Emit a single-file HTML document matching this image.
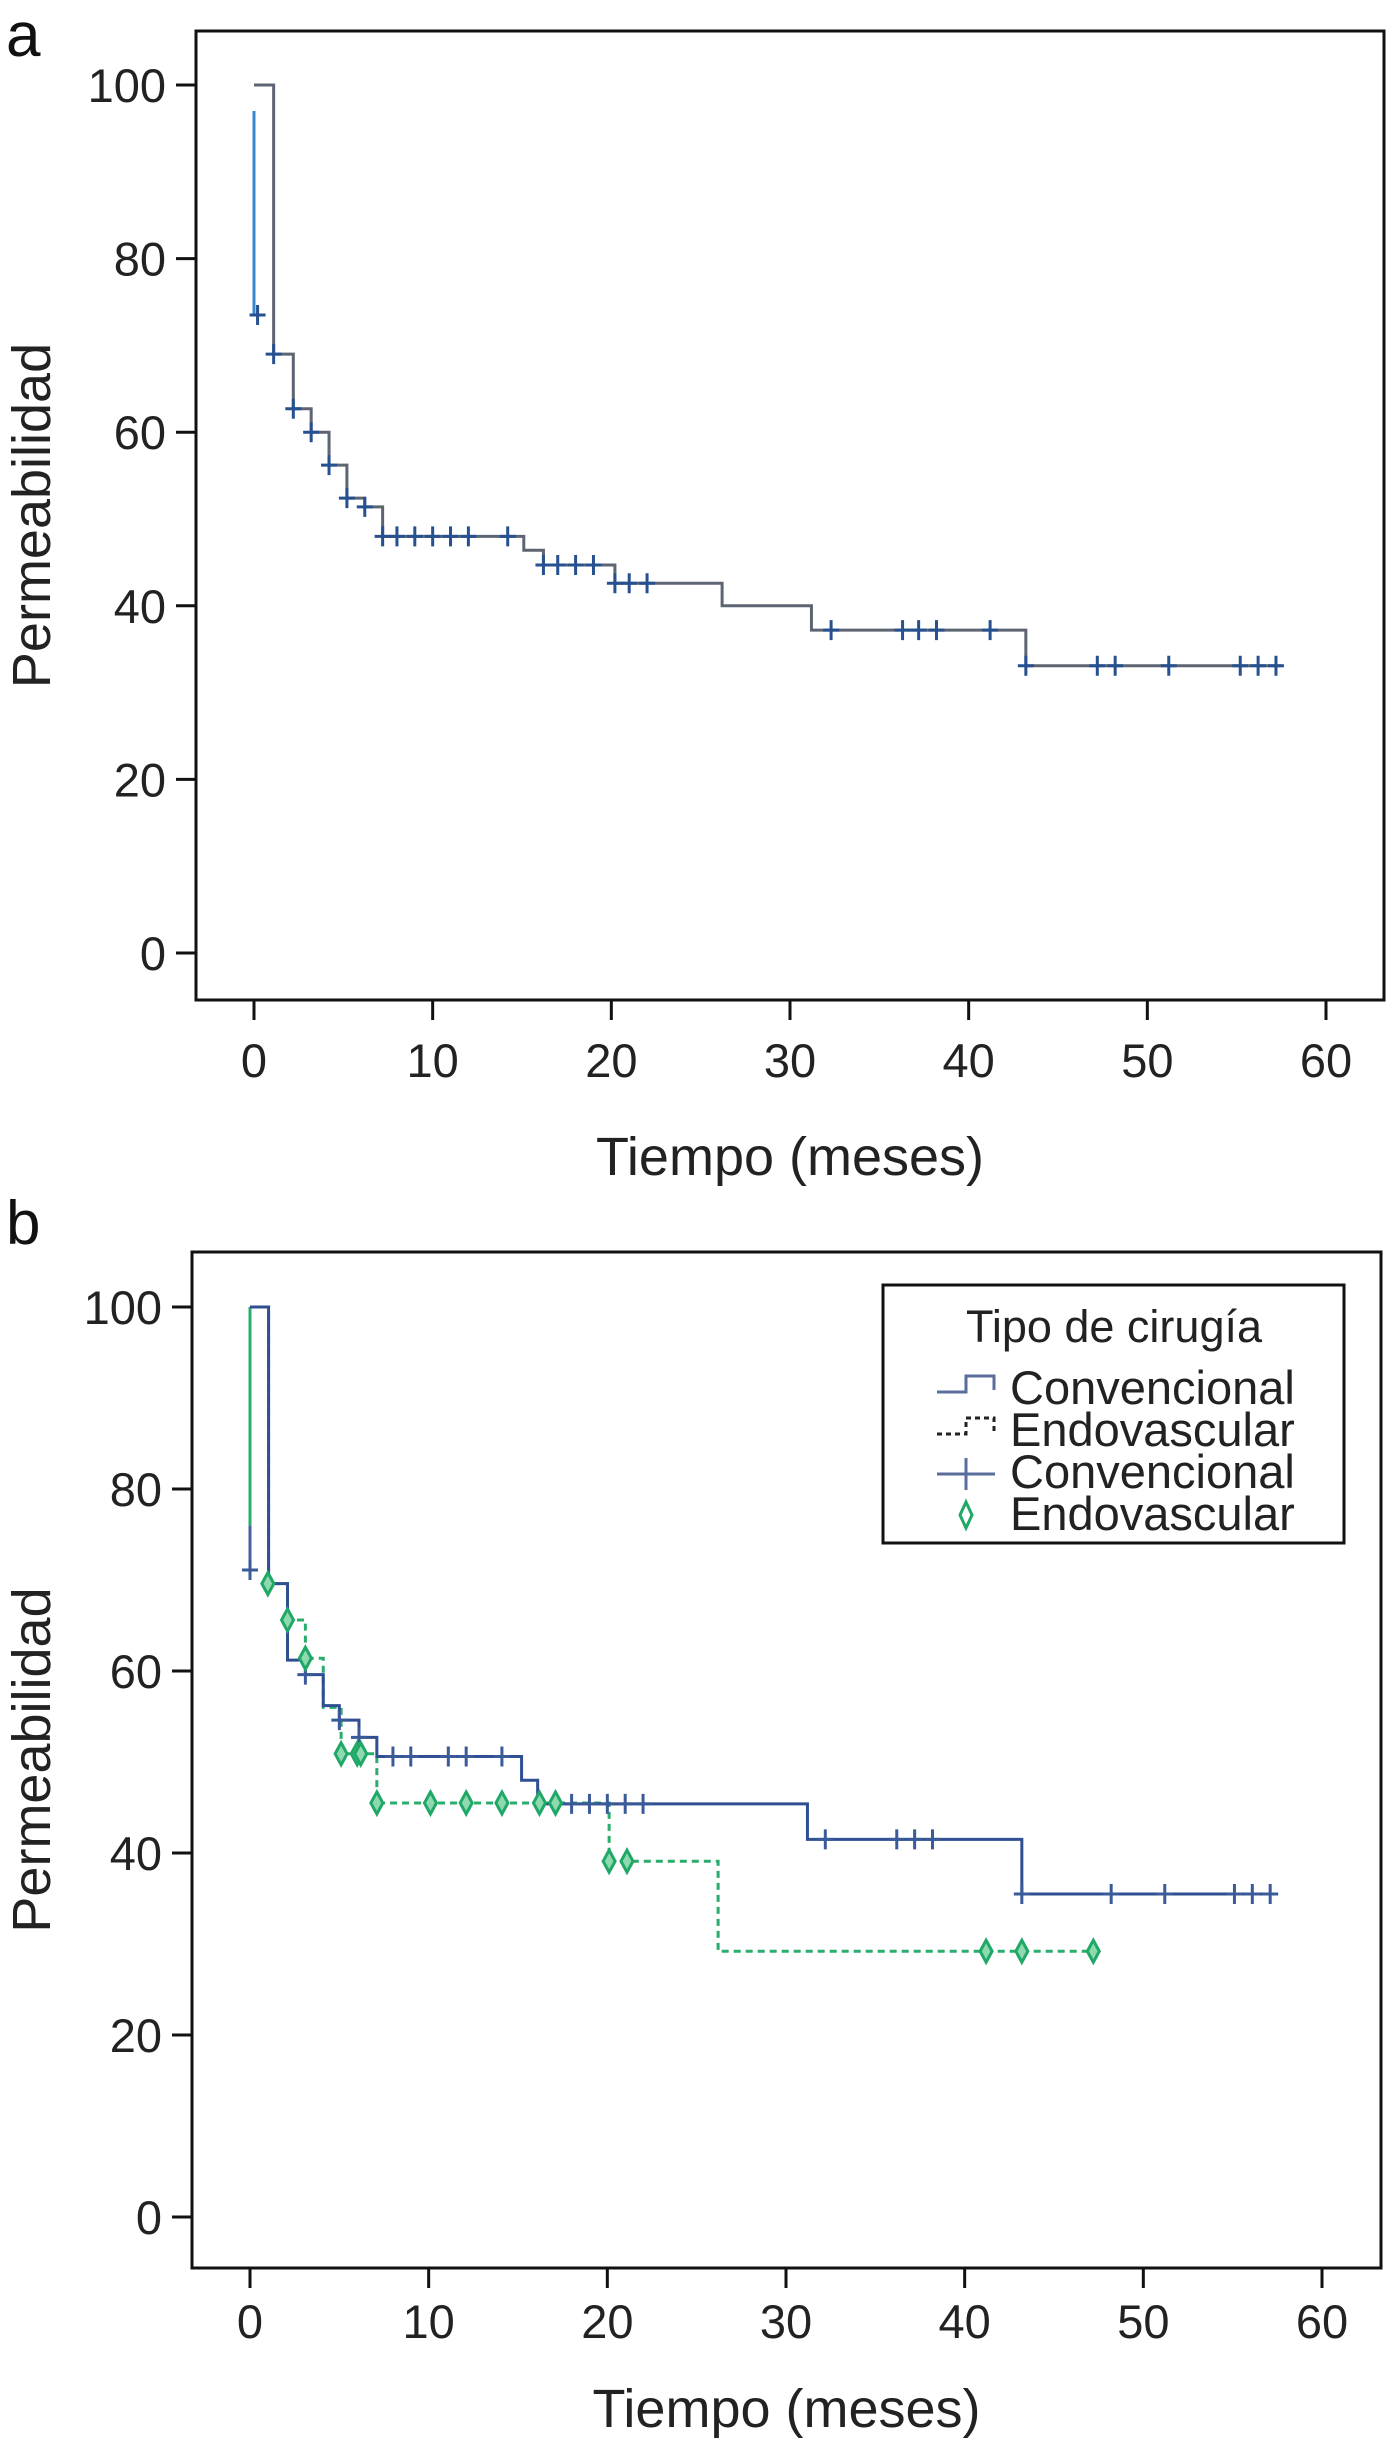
<!DOCTYPE html>
<html><head><meta charset="utf-8">
<style>
html,body{margin:0;padding:0;background:#fff;}
svg{display:block;font-family:"Liberation Sans",Arial,sans-serif;}
</style></head>
<body>
<svg id="chart" width="1394" height="2453" viewBox="0 0 1394 2453" xmlns="http://www.w3.org/2000/svg">
<text x="6" y="56" font-size="62" fill="#111">a</text>
<text x="6" y="1244" font-size="62" fill="#111">b</text>
</svg>
<script>
// ---- data ----
const xTicks = [0,10,20,30,40,50,60];
const yTicks = [0,20,40,60,80,100];
// Panel a: overall curve (step points: time, survival)
const aTimes = [0,1.1,2.2,3.2,4.2,5.2,6.2,7.2,15.1,16.2,20.2,26.2,31.2,43.2,57.5];
const aSurv  = [100,69,62.7,60,56.2,52.4,51.4,48,46.4,44.7,42.6,40,37.2,33.1,33.1];
const aCensT = [0.2,1.1,2.2,3.2,4.2,5.2,6.2,7.2,8,9,10,11,12,14.2,16.2,17,18,19,20.2,21,22,32.3,36.3,37.2,38.2,41.2,43.2,47.2,48.2,51.2,55.2,56.2,57.2];
const aCensS = [73.5,69,62.7,60,56.2,52.4,51.4,48,48,48,48,48,48,48,44.7,44.7,44.7,44.7,42.6,42.6,42.6,37.2,37.2,37.2,37.2,37.2,33.1,33.1,33.1,33.1,33.1,33.1,33.1];
// Panel b: Convencional
const convTimes = [0,1.04,2.1,3.1,4.1,5.0,6.1,7.1,15.2,16.1,31.2,43.2,57.5];
const convSurv  = [100,69.6,61.2,59.6,56.2,54.6,52.7,50.6,48,45.4,41.5,35.5,35.5];
const convCensT = [0,3.1,5,6.1,8,9,11.1,12.1,14.1,18,19,20,21,22,32.2,36.2,37.2,38.2,43.2,48.2,51.2,55.1,56.1,57.1];
const convCensS = [71.1,59.6,54.6,52.7,50.6,50.6,50.6,50.6,50.6,45.4,45.4,45.4,45.4,45.4,41.5,41.5,41.5,41.5,35.5,35.5,35.5,35.5,35.5,35.5];
// Panel b: Endovascular
const endoTimes = [0,1.04,2.1,3.1,4.1,5.1,7.1,20.1,26.2,47.2];
const endoSurv  = [100,69.6,65.6,61.4,56,50.9,45.5,39.1,29.2,29.2];
const endoCensT = [1,2.1,3.1,5.1,6,6.2,7.1,10.1,12.1,14.1,16.2,17.1,20.1,21.1,41.2,43.2,47.2];
const endoCensS = [69.6,65.6,61.4,50.9,50.9,50.9,45.5,45.5,45.5,45.5,45.5,45.5,39.1,39.1,29.2,29.2,29.2];

const NS="http://www.w3.org/2000/svg";
const svg=document.getElementById('chart');
function mk(tag,attrs,parent){const e=document.createElementNS(NS,tag);for(const k in attrs)e.setAttribute(k,attrs[k]);(parent||svg).appendChild(e);return e;}

function panel(p){
  const g=mk('g',{});
  
  
  const sx=v=>p.x0+(v)*(p.x60-p.x0)/60;
  const sy=v=>p.y0+(v)*(p.y100-p.y0)/100;
  const box=mk('rect',{x:p.L,y:p.T,width:p.R-p.L,height:p.B-p.T,fill:'none',stroke:'#111','stroke-width':3},g);
  
  
  yTicks.forEach(v=>{
    const t=mk('line',{x1:p.L-20,x2:p.L,y1:sy(v),y2:sy(v),stroke:'#111','stroke-width':3},g);
    
    
    const tx=mk('text',{x:p.L-30,y:sy(v)+17,'font-size':47,'text-anchor':'end',fill:'#222'},g);
    tx.textContent=v;
    
    
  });
  xTicks.forEach(v=>{
    const t=mk('line',{x1:sx(v),x2:sx(v),y1:p.B,y2:p.B+20,stroke:'#111','stroke-width':3},g);
    
    
    const tx=mk('text',{x:sx(v),y:p.tickY,'font-size':47,'text-anchor':'middle',fill:'#222'},g);
    tx.textContent=v;
    
    
  });
  const xt=mk('text',{x:(p.L+p.R)/2,y:p.xtY,'font-size':54,'text-anchor':'middle',fill:'#222'},g);
  xt.textContent='Tiempo (meses)';
  
  
  const yc=(p.T+p.B)/2;
  const yt=mk('text',{x:0,y:0,'font-size':54,'text-anchor':'middle',fill:'#222',transform:`translate(50,${yc}) rotate(-90)`},g);
  yt.textContent='Permeabilidad';
  
  
  return {g,sx,sy};
}
function stepPath(sx,sy,T,S){
  let d=`M${sx(T[0])},${sy(S[0])}`;
  for(let i=1;i<T.length;i++){d+=` H${sx(T[i])} V${sy(S[i])}`;}
  return d;
}
function cross(g,x,y,color,name){
  const c=mk('path',{d:`M${x-8},${y}H${x+8}M${x},${y-10}V${y+10}`,stroke:color,'stroke-width':3,fill:'none'},g);
  
  
}
function diamond(g,x,y,name){
  const c=mk('path',{d:`M${x},${y-11}L${x+6},${y}L${x},${y+11}L${x-6},${y}Z`,stroke:'#1fa866','stroke-width':3,fill:'#8fd9b0'},g);
  
  
}

// Panel a
const A=panel({name:'panel-a',L:196,T:31,R:1384,B:1000,x0:254,x60:1326,y0:953,y100:85,tickY:1077,xtY:1175});
let l=mk('path',{d:stepPath(A.sx,A.sy,aTimes,aSurv),fill:'none',stroke:'#5d6472','stroke-width':3},A.g);


let l2=mk('path',{d:`M${A.sx(0)},${A.sy(97)}V${A.sy(aCensS[0])}`,fill:'none',stroke:'#3a86d0','stroke-width':3},A.g);


aCensT.forEach((t,i)=>cross(A.g,A.sx(t),A.sy(aCensS[i]),'#26508f','censor-mark'));

// Panel b
const B=panel({name:'panel-b',L:192,T:1252,R:1381,B:2268,x0:250,x60:1322,y0:2217,y100:1307,tickY:2338,xtY:2427});
let b0=mk('path',{d:`M${B.sx(0)},${B.sy(100)}V${B.sy(76)}`,fill:'none',stroke:'#2aac6c','stroke-width':3},B.g);


let b1=mk('path',{d:`M${B.sx(0)},${B.sy(76)}V${B.sy(convCensS[0])}`,fill:'none',stroke:'#4a60a0','stroke-width':3},B.g);


let e=mk('path',{d:stepPath(B.sx,B.sy,endoTimes,endoSurv),fill:'none',stroke:'#2aac6c','stroke-width':3,'stroke-dasharray':'7,5'},B.g);


let c=mk('path',{d:stepPath(B.sx,B.sy,convTimes,convSurv),fill:'none',stroke:'#2f4f92','stroke-width':3},B.g);


convCensT.forEach((t,i)=>cross(B.g,B.sx(t),B.sy(convCensS[i]),'#3a5a9a','convencional-censor'));
endoCensT.forEach((t,i)=>diamond(B.g,B.sx(t),B.sy(endoCensS[i]),'endovascular-censor'));

// Legend
const lg=mk('g',{});


mk('rect',{x:883,y:1285,width:461,height:258,fill:'#fff',stroke:'#111','stroke-width':3},lg);
let lt=mk('text',{x:1114,y:1342,'font-size':45,'text-anchor':'middle',fill:'#222'},lg);
lt.textContent='Tipo de cirugía';


const labels=['Convencional','Endovascular','Convencional','Endovascular'];
const bl=[1404,1446,1488,1530];
labels.forEach((s,i)=>{
  const t=mk('text',{x:1010,y:bl[i],'font-size':47,fill:'#222'},lg);
  t.textContent=s;
  
  
});
mk('path',{d:'M937,1392H966V1376H994V1390',stroke:'#5a6e9e','stroke-width':3,fill:'none'},lg);
mk('path',{d:'M937,1434H966V1418H994V1432',stroke:'#222','stroke-width':3,fill:'none','stroke-dasharray':'5,4'},lg);
mk('path',{d:'M937,1474H995M966,1458V1490',stroke:'#5a6e9e','stroke-width':3,fill:'none'},lg);
mk('path',{d:'M966,1502L972,1515L966,1528L960,1515Z',stroke:'#1fa866','stroke-width':3,fill:'#fff'},lg);
</script>
</body></html>
